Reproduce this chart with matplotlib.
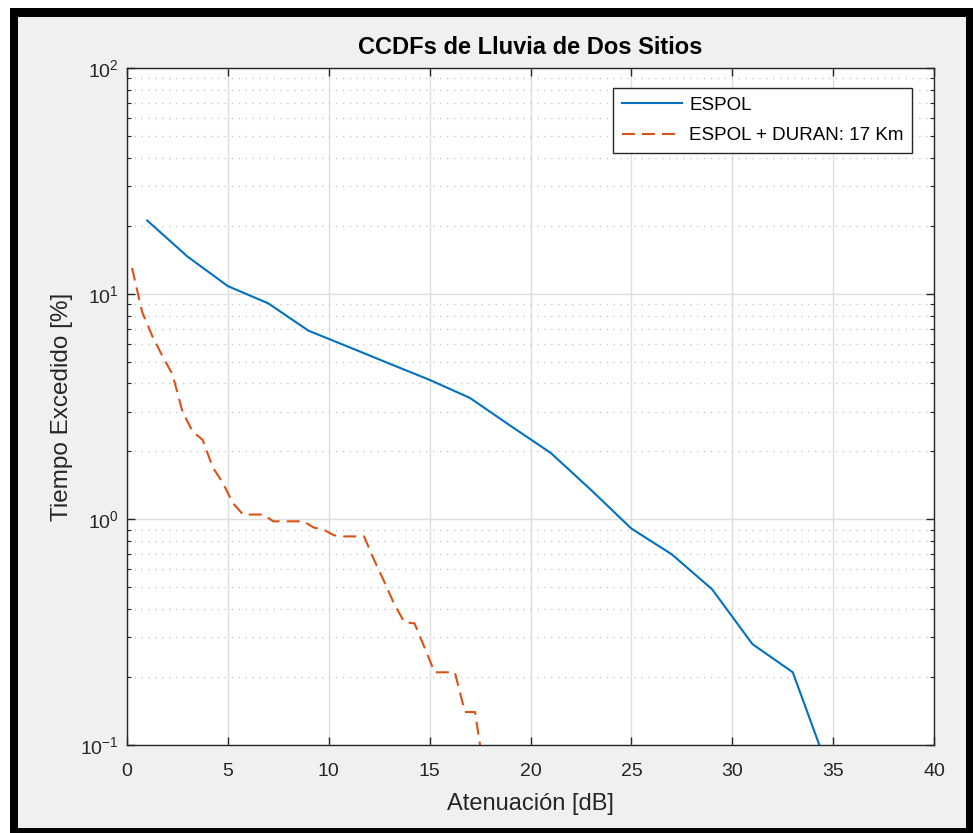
import matplotlib
matplotlib.use("Agg")
import matplotlib.pyplot as plt
from matplotlib.patches import Rectangle
from matplotlib.ticker import LogLocator, NullFormatter

# ---- data ----
espol_x = [1, 3, 5, 7, 9, 11, 13, 15, 17, 19, 21, 23, 25, 27, 29, 31, 33, 35]
espol_y = [21.1, 14.6, 10.8, 9.06, 6.85, 5.8, 4.9, 4.15, 3.45, 2.6, 1.97, 1.35,
           0.91, 0.70, 0.49, 0.28, 0.21, 0.068]

duran_x = [0.25, 0.75, 1.25, 1.75, 2.25, 2.75, 3.25, 3.75, 4.25, 4.75, 5.25, 5.75,
           6.25, 6.75, 7.25, 7.75, 8.25, 8.75, 9.25, 9.75, 10.25, 10.75, 11.25,
           11.75, 12.25, 12.75, 13.25, 13.75, 14.25, 14.75, 15.25, 15.75, 16.25,
           16.75, 17.25, 17.75]
duran_y = [13.0, 8.3, 6.5, 5.3, 4.4, 3.0, 2.45, 2.25, 1.7, 1.45, 1.18, 1.05,
           1.05, 1.05, 0.98, 0.98, 0.98, 0.98, 0.92, 0.90, 0.85, 0.84, 0.84,
           0.84, 0.66, 0.53, 0.42, 0.35, 0.346, 0.27, 0.21, 0.21, 0.21,
           0.14, 0.14, 0.071]

labels = ["ESPOL", "ESPOL + DURAN: 17 Km"]
title = "CCDFs de Lluvia de Dos Sitios"
xlabel = "Atenuación [dB]"
ylabel = "Tiempo Excedido [%]"
xticks = [0, 5, 10, 15, 20, 25, 30, 35, 40]

# ---- style ----
plt.rcParams['font.family'] = ['Liberation Sans', 'DejaVu Sans']
plt.rcParams['mathtext.fontset'] = 'custom'
plt.rcParams['mathtext.rm'] = 'Liberation Sans'
plt.rcParams['mathtext.it'] = 'Liberation Sans:italic'
plt.rcParams['mathtext.bf'] = 'Liberation Sans:bold'

W, H = 973, 833
fig = plt.figure(figsize=(W / 100, H / 100), dpi=100, facecolor='white')

# frame: black border + gray panel (figure pixel coords, origin top-left)
def px_rect(x0, y0, x1, y1, color):
    fig.patches.append(Rectangle((x0 / W, 1 - y1 / H), (x1 - x0) / W, (y1 - y0) / H,
                                 transform=fig.transFigure, facecolor=color,
                                 edgecolor='none', zorder=-10))

px_rect(10, 8, 973, 833, 'black')
px_rect(18, 17, 966, 828, '#f0f0f0')

ax_l, ax_r, ax_t, ax_b = 127, 934, 68, 745
ax = fig.add_axes([ax_l / W, 1 - ax_b / H, (ax_r - ax_l) / W, (ax_b - ax_t) / H])
ax.set_facecolor('white')

blue = '#0072BD'
orange = '#D95319'
ax.plot(espol_x, espol_y, color=blue, lw=1.5, label=labels[0], zorder=3)
ax.plot(duran_x, duran_y, color=orange, lw=1.5, ls=(0, (6.2, 3.4)),
        label=labels[1], zorder=3)

ax.set_yscale('log')
ax.set_xlim(0, 40)
ax.set_ylim(0.1, 100)
ax.set_xticks(xticks)
ax.yaxis.set_major_locator(LogLocator(base=10, numticks=10))
ax.yaxis.set_minor_locator(LogLocator(base=10, subs=range(2, 10), numticks=20))
ax.yaxis.set_minor_formatter(NullFormatter())

ax.grid(True, which='major', color='#dedede', lw=1.0, ls='-', zorder=0)
ax.grid(True, which='minor', axis='y', color='#c8c8c8', lw=1.0, ls=(0, (1, 4)), zorder=0)
ax.set_axisbelow(True)

tc = '#262626'
for s in ax.spines.values():
    s.set_color(tc)
    s.set_linewidth(1.0)
ax.tick_params(which='major', direction='in', length=6, width=1.0, color=tc,
               top=True, right=True, labelsize=14, labelcolor=tc)
ax.tick_params(axis='x', which='major', pad=13)
ax.tick_params(axis='y', which='major', pad=6)
ax.tick_params(which='minor', direction='in', length=3, width=0.8, color=tc,
               top=True, right=True)

ax.set_title(title, fontsize=17, fontweight='bold', color='black', pad=10)
ax.set_xlabel(xlabel, fontsize=17, color=tc, labelpad=9)
ax.set_ylabel(ylabel, fontsize=17.5, color=tc, labelpad=5)

leg = ax.legend(loc='upper right',
                bbox_to_anchor=((912 - ax_l) / (ax_r - ax_l), (ax_b - 88) / (ax_b - ax_t)),
                borderaxespad=0, fontsize=13.5, fancybox=False, framealpha=1,
                edgecolor=tc, handlelength=3.2, labelspacing=0.72,
                borderpad=0.45, handletextpad=0.4)
leg.get_frame().set_linewidth(1.0)
for t in leg.get_texts():
    t.set_color('black')

fig.savefig('out.png', dpi=100, facecolor=fig.get_facecolor())
